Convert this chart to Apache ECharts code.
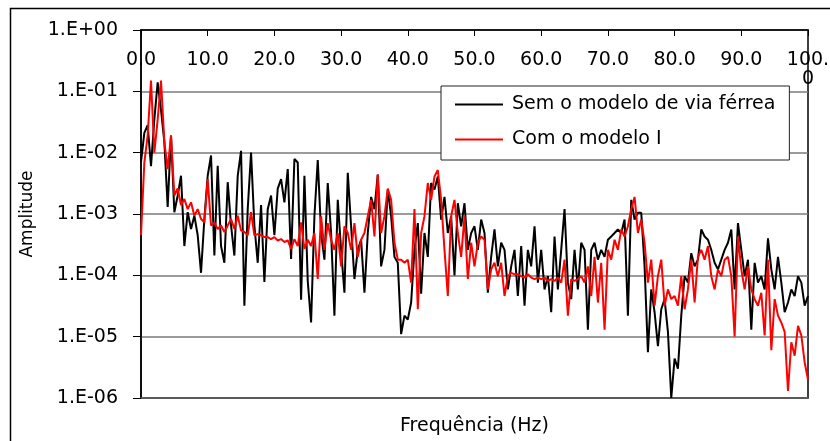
<!DOCTYPE html>
<html>
<head>
<meta charset="utf-8">
<script src="https://cdn.jsdelivr.net/npm/echarts@6/dist/echarts.min.js"></script>
<style>
html,body{margin:0;padding:0;background:#fff;}
#chart{width:830px;height:441px;}
</style>
</head>
<body>
<div id="chart"></div>
<script>
// Frequency grid spacing (Hz) of the sampled spectra
const stepHz = 0.5;
const xTicks = [0, 10, 20, 30, 40, 50, 60, 70, 80, 90, 100];
const yTickExponents = [0, -1, -2, -3, -4, -5, -6];
const seriesNames = ['Sem o modelo de via férrea', 'Com o modelo I'];

// "Sem o modelo de via férrea" amplitudes, 0 .. 100 Hz every 0.5 Hz
const semModelo = [
 7e-3, 2.1e-2, 2.8e-2, 6e-3, 3.5e-2, 1.4e-1, 5e-2, 1.5e-2, 1.3e-3, 1.9e-2,
 1.07e-3, 2e-3, 4.2e-3, 3e-4, 1.07e-3, 5.7e-4, 9.4e-4, 4.5e-4, 1.1e-4, 8.3e-4,
 4.2e-3, 9e-3, 2.1e-4, 6.1e-3, 3e-4, 1.6e-4, 3.3e-3, 6.5e-4, 2.1e-4, 4.2e-3,
 1.07e-2, 3.2e-5, 1.2e-3, 1e-2, 6.5e-4, 1.6e-4, 1.4e-3, 7.8e-5, 1.2e-3, 2e-3,
 4.5e-4, 2.6e-3, 3.7e-3, 1.55e-3, 5.4e-3, 1.85e-4, 7.9e-3, 6.9e-3, 4e-5, 4.2e-3,
 8e-5, 1.7e-5, 9.2e-4, 7.6e-3, 4.9e-4, 1.8e-4, 3.2e-3, 4.9e-4, 2.2e-5, 1.7e-3,
 2.6e-4, 5.2e-5, 4.7e-3, 6.3e-4, 8.7e-5, 2.6e-4, 3.8e-4, 5.2e-5, 4.9e-4, 1.9e-3,
 1.2e-3, 4.4e-3, 1.4e-4, 2.6e-4, 2.5e-3, 9.2e-4, 2e-4, 1.6e-4, 1.1e-5, 2.2e-5,
 1.9e-5, 3.6e-5, 2.6e-4, 7.1e-4, 5e-5, 4.9e-4, 2e-4, 3.2e-3, 2.5e-3, 4.1e-3,
 8.1e-4, 1.9e-3, 4.9e-4, 9.2e-4, 1e-4, 1.5e-3, 6.3e-4, 1.5e-3, 2.6e-4, 4.9e-4,
 6.3e-4, 2.6e-4, 8.1e-4, 4.9e-4, 5.2e-5, 2e-4, 5.6e-4, 1.4e-4, 3.4e-4, 2.6e-4,
 5.9e-5, 1.4e-4, 2.6e-4, 4.6e-5, 3e-4, 3.2e-5, 2.6e-4, 1.4e-4, 6.3e-4, 7.6e-5,
 2.6e-4, 5.9e-5, 9.7e-5, 2.5e-5, 4.3e-4, 5.9e-5, 2.6e-4, 1.2e-3, 7.6e-5, 4.1e-5,
 2.6e-4, 5.9e-5, 3.4e-4, 2.6e-4, 1.3e-5, 2.6e-4, 3.4e-4, 1.8e-4, 2.6e-4, 2e-4,
 3.8e-4, 4.3e-4, 4.9e-4, 5.6e-4, 4.9e-4, 8.1e-4, 2.2e-5, 1.7e-3, 8.1e-4, 1.05e-3,
 1.05e-3, 1.4e-4, 5.6e-6, 5.9e-5, 2.5e-5, 7e-6, 2.8e-5, 4.1e-5, 1.2e-5, 1e-6,
 4.4e-6, 3e-6, 2.2e-5, 9.7e-5, 7.6e-5, 2.3e-4, 1.4e-4, 1.8e-4, 5.6e-4, 4.3e-4,
 3.8e-4, 2.6e-4, 1.6e-4, 1.25e-4, 1.8e-4, 2.6e-4, 3.4e-4, 5.6e-4, 5.9e-5, 7.1e-4,
 2.6e-4, 9.7e-5, 1.8e-4, 1.3e-5, 1.6e-4, 7.6e-5, 9.7e-5, 5.9e-5, 4e-4, 1.25e-4,
 5.9e-5, 2e-4, 7.6e-5, 2.5e-5, 3.6e-5, 5.9e-5, 4.6e-5, 9.7e-5, 7.6e-5, 3.2e-5,
 4.6e-5
];

// "Com o modelo I" amplitudes, 0 .. 100 Hz every 0.5 Hz
const comModelo = [
 4.5e-4, 6.9e-3, 1.9e-2, 1.5e-1, 1e-2, 3.5e-2, 1.5e-1, 1.5e-2, 5.4e-3, 1.9e-2,
 2e-3, 2.6e-3, 1.4e-3, 1.75e-3, 1.2e-3, 1.55e-3, 9.4e-4, 1.2e-3, 8.3e-4, 7.3e-4,
 3.7e-3, 6.5e-4, 7.3e-4, 5.7e-4, 6.5e-4, 5.1e-4, 6.5e-4, 8.3e-4, 5.7e-4, 9.4e-4,
 5.4e-4, 5.1e-4, 4.5e-4, 1.07e-3, 4.5e-4, 4.7e-4, 4.5e-4, 4.2e-4, 4.2e-4, 3.9e-4,
 4.2e-4, 3.7e-4, 3.9e-4, 3.5e-4, 3.7e-4, 2.7e-4, 3.9e-4, 3e-4, 7.3e-4, 2.7e-4,
 3.8e-4, 3e-4, 4.9e-4, 8.7e-5, 9.2e-4, 2.6e-4, 7.1e-4, 3.8e-4, 2.6e-4, 4.9e-4,
 1.4e-4, 6.3e-4, 4.9e-4, 2.6e-4, 7.1e-4, 2e-4, 3.8e-4, 4.9e-4, 9.2e-4, 1.7e-3,
 4.3e-4, 4.4e-3, 4.9e-4, 9.2e-4, 2.6e-3, 1.7e-3, 3.4e-4, 1.8e-4, 1.8e-4, 1.6e-4,
 1.8e-4, 7.6e-5, 1.2e-3, 2.8e-5, 4.9e-4, 9.2e-4, 3.2e-3, 1.7e-3, 4.1e-3, 5.2e-3,
 1.7e-3, 2.6e-4, 4.6e-5, 9.2e-4, 1.7e-3, 4.9e-4, 2e-4, 9.2e-4, 8.7e-5, 3.4e-4,
 1.4e-4, 3.4e-4, 4.3e-4, 3.8e-4, 5.9e-5, 1.25e-4, 1.6e-4, 9.7e-5, 1.6e-4, 4.6e-5,
 9.7e-5, 1.1e-4, 1.04e-4, 1.04e-4, 9.7e-5, 9.2e-5, 1.04e-4, 9.2e-5, 8.7e-5, 9.2e-5,
 8.7e-5, 9.2e-5, 8.1e-5, 8.7e-5, 8.1e-5, 9.2e-5, 7.6e-5, 1.8e-4, 2.2e-5, 8.7e-5,
 8.1e-5, 8.7e-5, 9.7e-5, 7.6e-5, 1.4e-4, 4.6e-5, 2e-4, 3.6e-5, 1.6e-4, 1.3e-5,
 2.6e-4, 1.8e-4, 3.8e-4, 2.6e-4, 5.6e-4, 4.3e-4, 6.3e-4, 1.2e-3, 1.9e-3, 4.9e-4,
 8.1e-4, 3.4e-4, 7.6e-5, 1.8e-4, 3.2e-5, 9.7e-5, 1.8e-4, 3.2e-5, 5.9e-5, 4.1e-5,
 4.6e-5, 3.2e-5, 9.7e-5, 2.8e-5, 5.9e-5, 1.8e-4, 3.6e-5, 2e-4, 2.6e-4, 1.8e-4,
 3e-4, 9.7e-5, 5.9e-5, 1.25e-4, 9.7e-5, 1.8e-4, 2e-4, 9.7e-5, 1e-5, 4.3e-4,
 1.25e-4, 5.9e-5, 1.4e-4, 5.9e-5, 4.1e-5, 3.2e-5, 5.2e-5, 1.05e-5, 1.8e-4, 6e-6,
 4.1e-5, 2.2e-5, 1.7e-5, 1.2e-5, 1.3e-6, 8.1e-6, 4.9e-6, 1.5e-5, 1.05e-5, 3.8e-6,
 2e-6
];

const toPairs = arr => arr.map((v, i) => [i * stepHz, v]);

const FONT = 'DejaVu Sans';
const chart = echarts.init(document.getElementById('chart'), null, {renderer: 'canvas'});

function yLabel(v) {
  const e = Math.round(Math.log10(v));
  const a = Math.abs(e);
  return '1.E' + (e >= 0 ? '+' : '-') + (a < 10 ? '0' + a : '' + a);
}

chart.setOption({
  animation: false,
  backgroundColor: '#fff',
  graphic: [{
    type: 'rect',
    shape: {x: 10.5, y: 8.5, width: 900, height: 600},
    style: {fill: 'none', stroke: '#000', lineWidth: 1.5},
    silent: true, z: -10
  }],
  grid: {
    left: 141, right: 22, top: 30, bottom: 43,
    outerBoundsMode: 'none', containLabel: false,
    show: true, borderColor: '#000', borderWidth: 1.5, backgroundColor: 'transparent'
  },
  legend: {
    orient: 'vertical',
    left: 441, top: 86,
    data: seriesNames,
    backgroundColor: '#fff',
    borderColor: '#222',
    borderWidth: 1,
    padding: [9, 14, 11, 14],
    itemWidth: 48,
    itemHeight: 14,
    itemGap: 16,
    icon: 'path://M0,6 L48,6 L48,8 L0,8 Z',
    textStyle: {fontFamily: FONT, fontSize: 19, color: '#000', padding: [0, 0, 0, 4]}
  },
  xAxis: [{
    type: 'value', position: 'top', min: 0, max: 100, interval: 10,
    axisLine: {show: true, lineStyle: {color: '#000', width: 1.5}},
    axisTick: {show: true, inside: true, length: 6, lineStyle: {color: '#000'}},
    axisLabel: {
      inside: true, margin: 21, color: '#000', fontFamily: FONT, fontSize: 19,
      formatter: v => (v === 100 ? '100.\n0' : v.toFixed(1)),
      lineHeight: 19
    },
    splitLine: {show: false}
  }, {
    type: 'value', position: 'bottom', min: 0, max: 100,
    axisLine: {show: true, lineStyle: {color: '#555', width: 1.5}},
    axisTick: {show: false}, axisLabel: {show: false}, splitLine: {show: false},
    name: 'Frequência (Hz)', nameLocation: 'middle', nameGap: 19,
    nameTextStyle: {fontFamily: FONT, fontSize: 19, color: '#000'}
  }],
  yAxis: {
    type: 'log', logBase: 10, min: 1e-6, max: 1,
    name: 'Amplitude', nameLocation: 'middle', nameRotate: 90, nameGap: 105,
    nameTextStyle: {fontFamily: FONT, fontSize: 17, color: '#000'},
    axisLine: {show: true, lineStyle: {color: '#000', width: 1.5}},
    axisTick: {show: true, inside: false, length: 8, lineStyle: {color: '#000'}},
    axisLabel: {margin: 23, color: '#000', fontFamily: FONT, fontSize: 19, formatter: yLabel},
    splitLine: {show: true, lineStyle: {color: '#7a7a7a', width: 1.5}}
  },
  series: [{
    name: seriesNames[0], type: 'line', xAxisIndex: 0,
    data: toPairs(semModelo), showSymbol: false, symbol: 'none',
    lineStyle: {color: '#000', width: 2}, itemStyle: {color: '#000'}, z: 2
  }, {
    name: seriesNames[1], type: 'line', xAxisIndex: 0,
    data: toPairs(comModelo), showSymbol: false, symbol: 'none',
    lineStyle: {color: '#ff0000', width: 2}, itemStyle: {color: '#ff0000'}, z: 3
  }]
});
</script>
</body>
</html>
